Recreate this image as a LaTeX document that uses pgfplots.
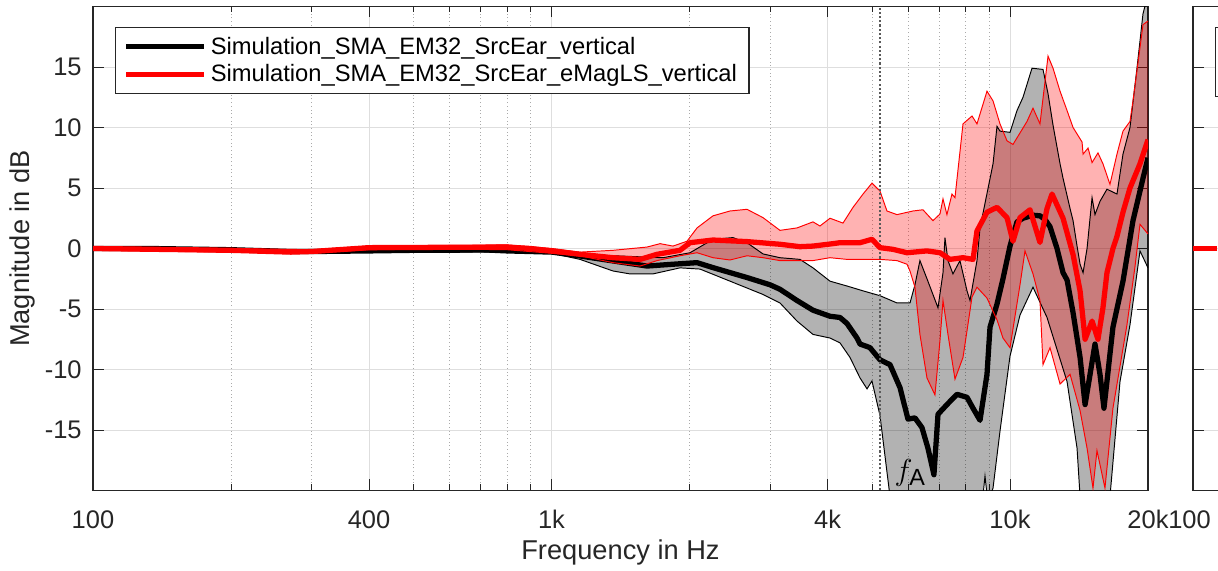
\documentclass[border=0pt]{standalone}
\usepackage{pgfplots}
\pgfplotsset{compat=1.18}
\usepgfplotslibrary{fillbetween}
\usepackage{pgfplotstable}
\usepackage{fontspec}
\setmainfont{Liberation Sans}

\definecolor{axgray}{RGB}{38,38,38}
\definecolor{gridgray}{RGB}{222,222,222}
\definecolor{minorgray}{RGB}{170,170,170}
\definecolor{fagray}{RGB}{90,90,90}

% black: mean and spread
\pgfplotstableread{
f db
100 0.0
133 0.0
200 -0.1
270 -0.25
300 -0.25
400 -0.2
500 -0.15
600 -0.15
700 -0.1
800 -0.2
900 -0.25
1003 -0.3
1154 -0.62
1362 -1.03
1616 -1.45
1841 -1.3
2077 -1.17
2250 -1.58
2669 -2.4
2997 -3.0
3150 -3.37
3432 -4.3
3718 -5.1
4050 -5.6
4258 -5.7
4411 -6.2
4638 -7.4
4709 -7.9
4877 -8.1
4951 -8.2
5205 -9.2
5474 -9.6
5756 -11.5
5991 -14.1
6205 -14.0
6427 -14.8
6623 -16.5
6826 -18.7
6966 -13.7
7287 -12.9
7663 -12.05
8058 -12.3
8306 -13.2
8602 -14.2
8909 -10.4
9045 -6.5
9368 -4.6
9654 -2.5
10000 0.2
10358 2.2
10675 2.5
11224 2.75
11625 2.7
11922 2.4
12226 1.8
12664 0.0
13053 -2.0
13318 -2.6
13726 -5.3
14218 -9.0
14580 -12.9
14950 -10.4
15325 -7.9
15714 -10.4
16032 -13.2
16771 -6.5
17638 -2.7
18548 2.3
19505 5.8
20000 7.5
}\blackmean

\pgfplotstableread{
f db
100 0.1
200 0.0
300 -0.15
400 0.0
600 0.0
800 0.0
1003 -0.2
1154 -0.5
1362 -0.6
1751 -0.76
2005 -0.35
2250 0.76
2488 0.9
2669 0.48
2893 -0.45
3150 -0.76
3483 -0.9
3718 -1.6
4050 -2.7
4411 -3.1
4780 -3.5
5205 -3.9
5669 -4.5
6052 -4.5
6205 -3.0
6362 -1.0
6591 -2.5
6966 -4.9
7143 -2.0
7214 0.9
7324 -1.0
7510 -2.1
7780 -1.0
8058 -3.5
8181 -4.3
8472 -1.0
8602 1.7
9183 7.0
9368 10.1
9510 9.7
10000 9.6
10358 11.4
10675 12.5
11168 14.9
11803 14.8
12104 12.8
12412 10.2
12857 7.0
13053 5.8
13521 3.3
13726 2.3
14004 0.2
14218 -1.3
14434 -2.0
14725 0.0
15100 4.2
15325 2.8
15714 3.9
16274 4.9
17113 4.5
17638 7.8
18270 10.0
18923 14.9
19505 19.4
20000 21
}\blackup

\pgfplotstableread{
f db
100 -0.1
200 -0.2
300 -0.35
400 -0.3
600 -0.3
800 -0.3
1003 -0.4
1154 -0.9
1362 -1.86
1483 -2.1
1665 -2.1
1907 -1.6
2108 -1.7
2451 -2.7
2893 -3.8
3150 -4.5
3432 -6.0
3718 -7.1
4050 -7.4
4258 -7.8
4477 -9.0
4709 -10.7
4877 -11.6
5000 -10.95
5205 -13.8
5474 -20.5
6000 -25
8000 -25
8700 -21
8820 -18.8
8950 -21
9183 -19.8
9510 -15.1
10000 -8.9
10515 -5.5
11224 -3.2
12043 -5.7
13318 -11.0
14004 -16.5
14218 -20.5
15000 -25
16000 -25
16522 -20.5
17376 -11.0
18270 -6.3
19212 -0.2
20000 -1.6
}\blacklow

% red: mean and spread
\pgfplotstableread{
f db
100 0.0
200 -0.15
270 -0.3
300 -0.25
400 0.07
600 0.1
800 0.12
900 0.0
1003 -0.2
1154 -0.48
1362 -0.76
1560 -0.9
1699 -0.48
1907 -0.15
2005 0.48
2250 0.7
2669 0.57
3150 0.35
3483 0.15
3718 0.2
4111 0.4
4258 0.48
4709 0.48
5000 0.76
5205 0.07
5556 -0.07
5961 -0.35
6591 -0.2
7036 -0.35
7397 -0.9
7898 -0.76
8306 -0.9
8472 1.45
8909 3.0
9368 3.4
9850 2.55
10151 0.6
10515 2.55
11056 3.2
11625 0.5
12043 3.3
12350 4.5
13053 2.5
13726 -0.5
14218 -3.5
14580 -7.5
15100 -6.0
15556 -7.5
15951 -4.9
16274 -2.0
16771 0.0
17113 1.0
17638 3.0
18270 5.0
19212 7.0
20000 9.0
}\redmean

\pgfplotstableread{
f db
100 0.15
200 0.0
300 -0.1
400 0.2
600 0.25
800 0.3
1003 0.0
1154 -0.3
1362 -0.15
1616 0.12
1725 0.4
1841 0.2
1975 0.6
2077 1.7
2250 2.7
2451 3.1
2669 3.24
2893 2.55
3150 1.5
3432 1.7
3718 2.2
3851 1.86
4050 2.5
4323 2.1
4546 3.4
4780 4.5
5000 5.4
5205 4.75
5391 3.1
5669 2.8
6143 3.1
6459 3.2
6792 2.3
7036 2.85
7143 4.1
7287 2.8
7472 4.5
7586 4.2
7780 8.0
7898 10.3
8264 10.95
8472 10.3
8909 13.0
9183 12.2
9510 10.3
9850 8.9
10151 8.6
10891 10.5
11224 11.6
11625 10.3
12104 15.9
12412 14.9
12857 13.0
13318 11.4
13726 10.0
14361 8.8
14434 7.8
14800 8.3
15100 7.1
15556 7.9
15951 7.0
16522 5.3
17113 7.8
17638 9.7
18270 10.5
18548 12.2
19505 18.5
20000 18.8
}\redup

\pgfplotstableread{
f db
100 -0.15
200 -0.3
300 -0.4
400 -0.1
600 -0.05
800 -0.1
1003 -0.4
1154 -0.6
1362 -1.17
1560 -1.45
1699 -1.0
1907 -0.6
2077 -0.35
2250 -0.76
2451 -0.95
2669 -0.6
2893 -0.76
3150 -1.0
3718 -1.0
4050 -0.76
4411 -0.9
5205 -0.9
5669 -1.0
5961 -1.3
6052 -1.86
6205 -3.2
6362 -7.1
6591 -10.7
6861 -12.1
7036 -7.6
7143 -4.3
7324 -7.1
7586 -10.8
7898 -9.0
8058 -6.8
8264 -4.0
8472 -3.2
8909 -4.1
9368 -5.9
9654 -7.4
10000 -8.2
10515 -3.0
10782 -0.2
11224 -2.1
11625 -4.3
11803 -9.6
12226 -8.2
12857 -11.2
13521 -10.4
14218 -13.4
14725 -16.5
15171 -19.8
15478 -16.7
16113 -19.8
16771 -13.2
17996 -6.3
18735 -1.5
19212 2.0
20000 1.2
}\redlow

\pgfplotsset{
  every axis/.append style={
    scale only axis, width=211mm, height=96.8mm,
    xmin=100, xmax=20000, ymin=-20, ymax=20,
    xtick={100,400,1000,4000,10000,20000},
    xticklabels={100,400,1k,4k,10k,20k},
    minor xtick={200,300,500,600,700,800,900,2000,3000,5000,6000,7000,8000,9000},
    ytick={-15,-10,-5,0,5,10,15},
    tick align=inside,
    major tick length=2.2mm, minor tick length=1.2mm,
    every tick/.style={axgray, line width=0.5pt},
    axis line style={axgray, line width=0.8pt},
    grid=both,
    major grid style={gridgray, line width=0.5pt},
    minor grid style={minorgray, line width=0.5pt, dash pattern=on 0.5pt off 1.6pt},
    tick label style={font=\fontsize{14.5}{17}\selectfont, text=axgray},
    xticklabel style={anchor=center, yshift=-5.8mm},
    yticklabel style={anchor=east, inner sep=0pt, xshift=-2.2mm},
  },
}

\begin{document}
\begin{tikzpicture}

\begin{semilogxaxis}[at={(18.6mm,15.9mm)}, anchor=south west,
  yticklabels={-15,-10,-5,0,5,10,15},
  xlabel={Frequency in Hz}, ylabel={Magnitude in dB},
  every axis x label/.style={at={(axis description cs:0.5,-0.128)}, anchor=center,
    font=\fontsize{15.5}{18}\selectfont, text=axgray},
  every axis y label/.style={at={(axis description cs:-0.0664,0.5)}, anchor=center,
    rotate=90, font=\fontsize{15.5}{18}\selectfont, text=axgray},
  legend style={at={(axis description cs:0.0209,0.957)}, anchor=north west,
    draw=axgray, line width=0.6pt, fill=white,
    font=\fontsize{13.5}{16}\selectfont,
    inner xsep=1.6mm, inner ysep=1mm, nodes={inner sep=0.8mm}},
  legend cell align=left,
  legend image code/.code={\draw[#1] (0mm,0mm) -- (15.6mm,0mm);},
]
  % black spread
  \addplot[draw=none, name path=bu, forget plot] table {\blackup};
  \addplot[draw=none, name path=bl, forget plot] table {\blacklow};
  \addplot[fill=black, fill opacity=0.3, forget plot] fill between[of=bu and bl];
  \addplot[black, line width=0.55pt, forget plot] table {\blackup};
  \addplot[black, line width=0.55pt, forget plot] table {\blacklow};
  \addplot[black, line width=3pt, line join=round] table {\blackmean};
  \addlegendentry{Simulation\_SMA\_EM32\_SrcEar\_vertical}

  % red spread
  \addplot[draw=none, name path=ru, forget plot] table {\redup};
  \addplot[draw=none, name path=rl, forget plot] table {\redlow};
  \addplot[fill=red, fill opacity=0.3, forget plot] fill between[of=ru and rl];
  \addplot[red, line width=0.55pt, forget plot] table {\redup};
  \addplot[red, line width=0.55pt, forget plot] table {\redlow};

  % aliasing frequency
  \addplot[fagray, line width=1.1pt, dash pattern=on 1.2pt off 1.2pt, forget plot]
    coordinates {(5200,-20) (5200,20)};
  \node[anchor=south west, inner sep=0pt, xshift=2.9mm, yshift=0.8mm,
    font=\fontsize{19}{22}\selectfont] at (axis cs:5200,-20) {$f_{\mathrm{A}}$};

  \addplot[red, line width=3pt, line join=round] table {\redmean};
  \addlegendentry{Simulation\_SMA\_EM32\_SrcEar\_eMagLS\_vertical}
\end{semilogxaxis}

% neighbouring panel, cut off at the right edge
\begin{semilogxaxis}[at={(238.6mm,15.9mm)}, anchor=south west,
  xtick={100}, xticklabels={100}, yticklabels={},
  xticklabel style={xshift=-0.7mm}]
  \addplot[red, line width=3pt] coordinates {(100,0) (113,0)};
  \draw[axgray, line width=0.6pt, fill=white]
    (axis description cs:0.0209,0.957) rectangle (axis description cs:0.6,0.815);
\end{semilogxaxis}

\pgfresetboundingbox
\useasboundingbox (0,0) rectangle (243.6mm,114mm);
\end{tikzpicture}
\end{document}
